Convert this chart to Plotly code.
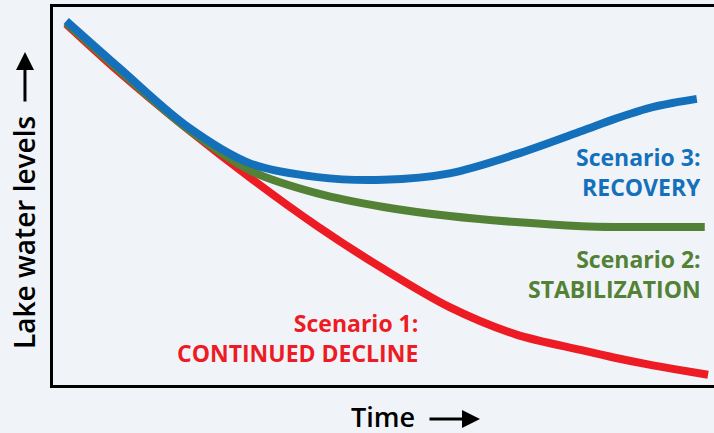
import plotly.graph_objects as go

# Time (arbitrary units, 0-100) and relative lake level (0-100)
time = [2, 10, 20, 30, 40, 50, 60, 70, 80, 85, 90, 94]
time_end = {"decline": 99.1, "stabilization": 98.6, "recovery": 97.4}
decline = [95.5, 82.8, 68.2, 54.6, 42.0, 30.7, 20.6, 13.4, 9.2, 7.2, 5.45, 4.2, 2.7]
stabilization = [95.8, 83.3, 68.3, 56.6, 50.7, 47.1, 44.7, 43.1, 42.0, 41.8, 41.8, 41.8, 41.8]
recovery = [96.3, 83.9, 68.8, 58.5, 55.0, 54.3, 56.0, 61.0, 67.2, 70.4, 73.2, 74.7, 75.7]

RED = "#ed1c24"
GREEN = "#538135"
BLUE = "#1570bb"
BG = "#f0f4f9"
FONT = "Open Sans"

fig = go.Figure()
for key, ys, col in [("decline", decline, RED), ("stabilization", stabilization, GREEN),
                     ("recovery", recovery, BLUE)]:
    fig.add_trace(go.Scatter(x=time + [time_end[key]], y=ys, mode="lines",
                             line=dict(color=col, width=8, shape="spline", smoothing=0.9),
                             hoverinfo="skip", showlegend=False))

labels = [
    ("Scenario 3:<br>RECOVERY", 98.3, 56.3, BLUE),
    ("Scenario 2:<br>STABILIZATION", 98.3, 29.4, GREEN),
    ("Scenario 1:<br>CONTINUED DECLINE", 55.5, 12.4, RED),
]
for txt, x, y, col in labels:
    fig.add_annotation(x=x, y=y, text=txt, showarrow=False, xanchor="right", yanchor="middle",
                       align="right", font=dict(family=FONT, size=23, color=col, weight="bold"))

# axis titles with arrows
fig.add_annotation(xref="paper", yref="paper", x=0.499, y=-0.083, text="Time", showarrow=False,
                   xanchor="center", yanchor="middle",
                   font=dict(family=FONT, size=27, color="black", weight=600))
fig.add_annotation(xref="paper", yref="paper", x=0.646, y=-0.09, ax=-52, ay=0, text="",
                   showarrow=True, arrowhead=2, arrowsize=1.2, arrowwidth=3, arrowcolor="black")
fig.add_annotation(xref="paper", yref="paper", x=-0.0439, y=0.405, text="Lake water levels",
                   textangle=-90, showarrow=False, xanchor="center", yanchor="middle",
                   font=dict(family=FONT, size=28, color="black", weight=600))
fig.add_annotation(xref="paper", yref="paper", x=-0.0424, y=0.881, ax=0, ay=51, text="",
                   showarrow=True, arrowhead=2, arrowsize=1.2, arrowwidth=3, arrowcolor="black")

fig.update_xaxes(range=[0, 100], showticklabels=False, ticks="", showgrid=False, zeroline=False,
                 showline=True, linecolor="black", linewidth=3, mirror=True)
fig.update_yaxes(range=[0, 100], showticklabels=False, ticks="", showgrid=False, zeroline=False,
                 showline=True, linecolor="black", linewidth=3)
fig.update_layout(width=714, height=433, margin=dict(l=53, r=0, t=7, b=48),
                  paper_bgcolor=BG, plot_bgcolor=BG)
fig.write_html("out.html", config={"displayModeBar": False},
               post_script="document.body.style.margin='0';document.body.style.background='%s';" % BG)
